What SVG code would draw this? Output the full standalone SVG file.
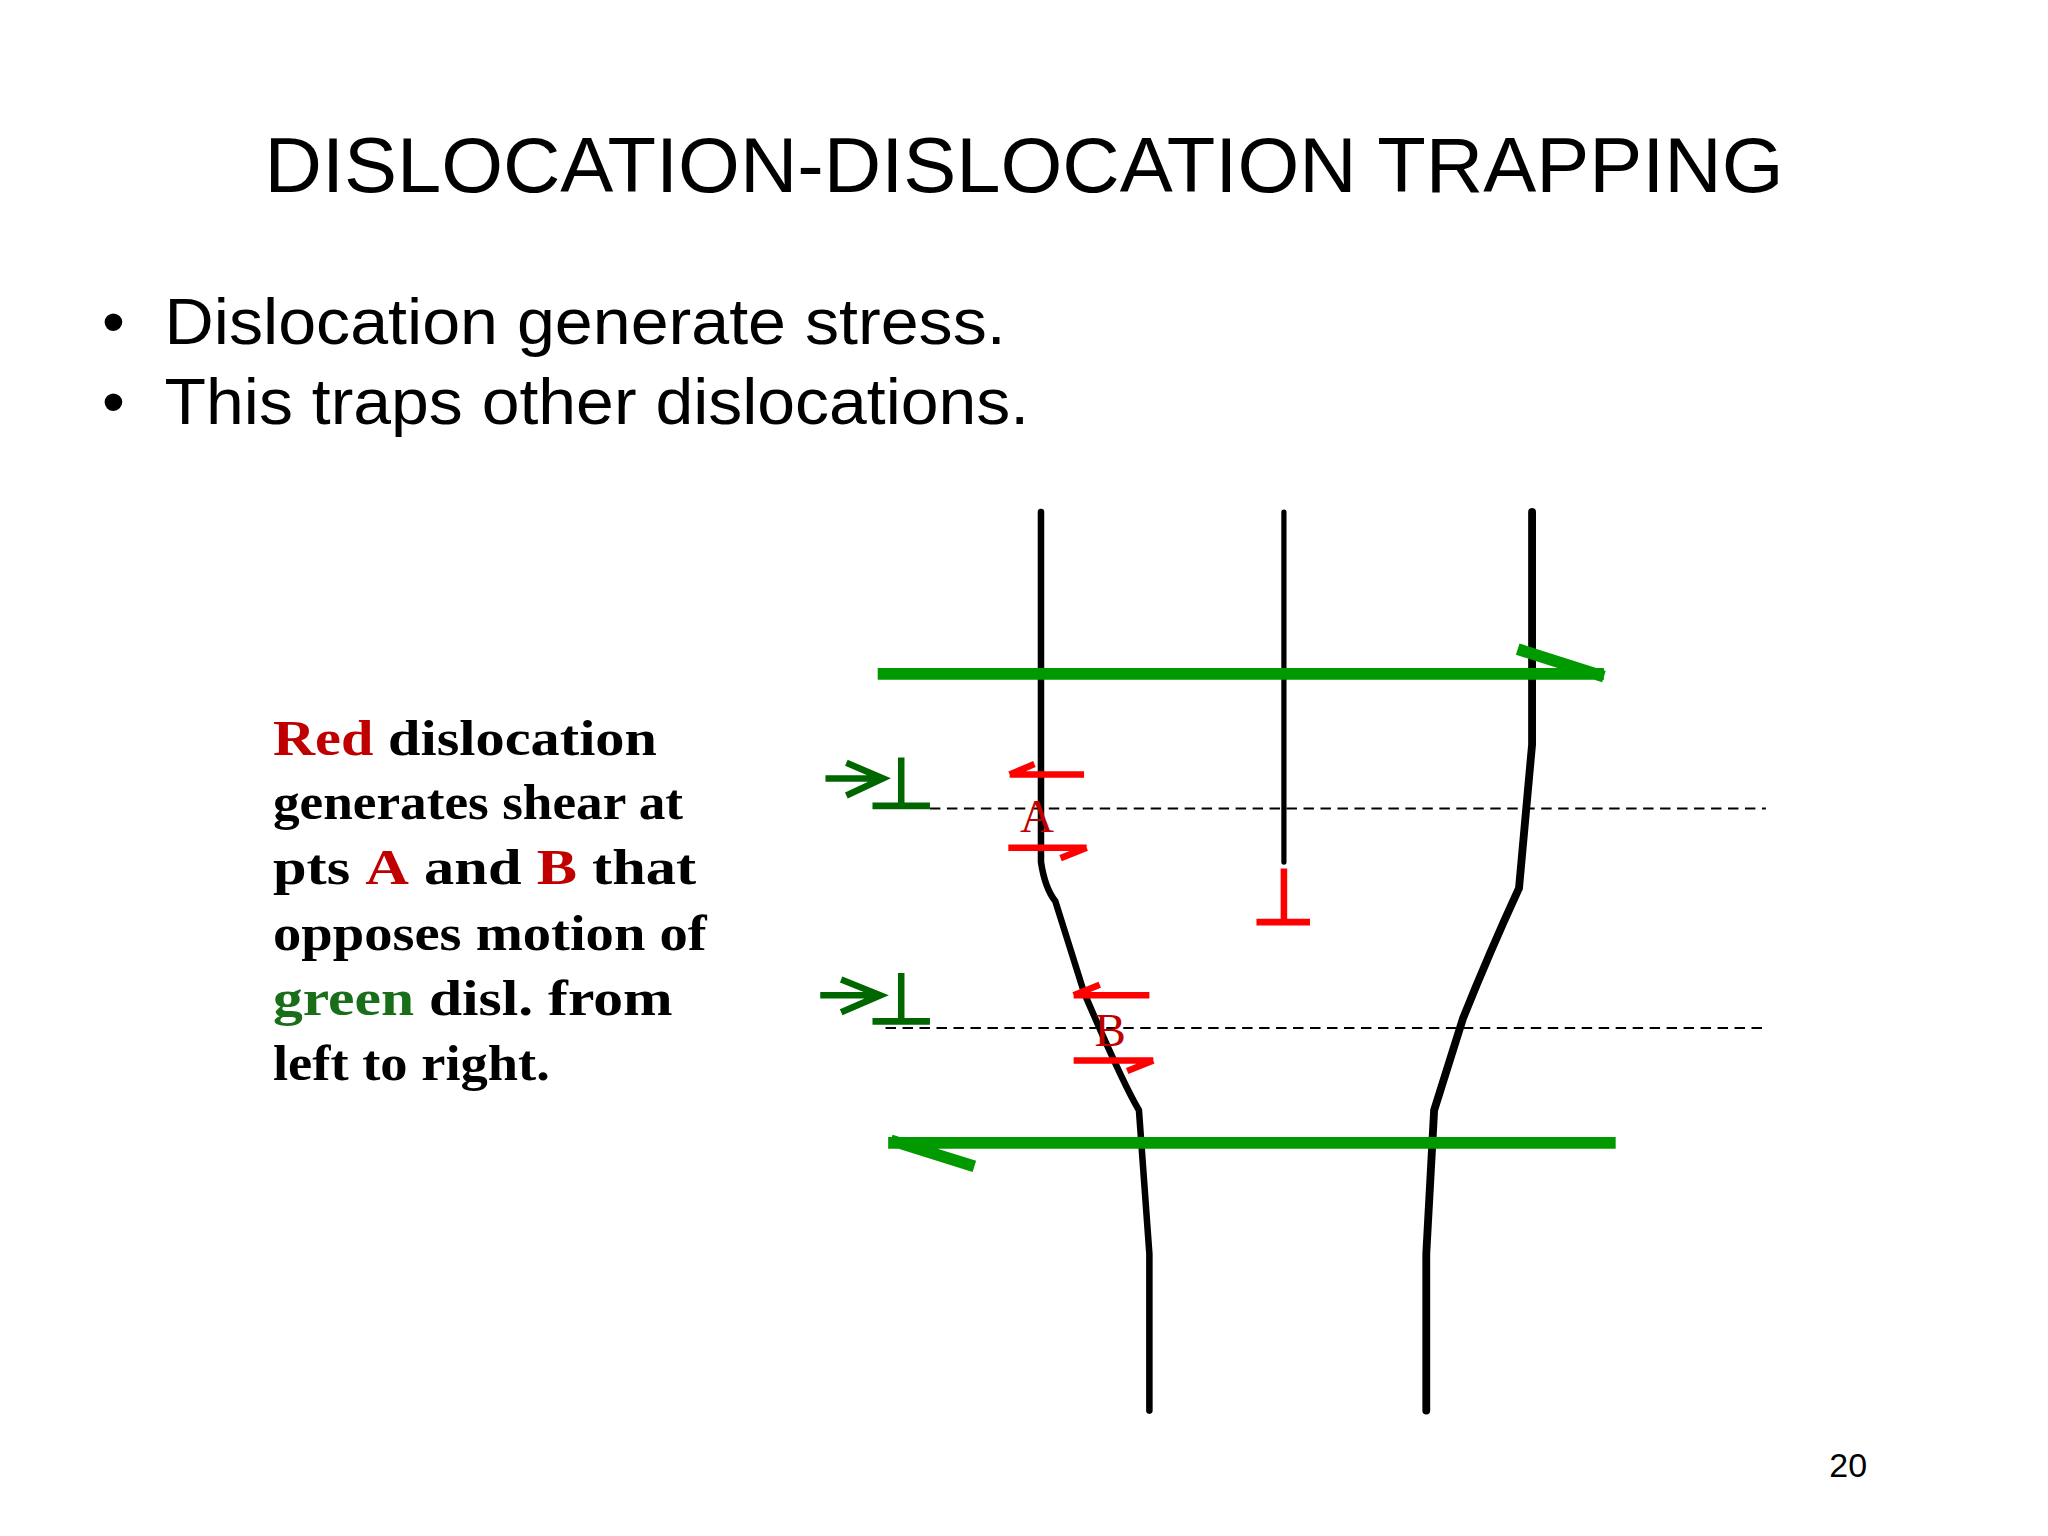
<svg xmlns="http://www.w3.org/2000/svg" width="2048" height="1536" viewBox="0 0 2048 1536">
<style>
.sans{font-family:"Liberation Sans",Arial,sans-serif;fill:#000}
.serif{font-family:"Liberation Serif","Times New Roman",serif;font-weight:bold;font-size:38px;fill:#000}
.red{fill:#c00000}.grn{fill:#1a6e1a}
.blk{stroke:#000;fill:none;stroke-linecap:round}
.g{stroke:#009900;fill:none;stroke-width:9}
.dg{stroke:#006600;fill:none;stroke-width:5}
.r{stroke:#ff0000;fill:none;stroke-width:5}
.dash{stroke:#000;stroke-width:1.5;stroke-dasharray:8 5}
</style>
<rect width="2048" height="1536" fill="#fff"/>
<g transform="scale(1.30612)">
<g id="title"><text class="sans" x="784" y="147" font-size="60" text-anchor="middle" textLength="1163" lengthAdjust="spacingAndGlyphs">DISLOCATION-DISLOCATION TRAPPING</text></g>
<g id="bullets" class="sans" font-size="50">
<text x="78" y="263">•</text><text x="126" y="263" textLength="644" lengthAdjust="spacingAndGlyphs">Dislocation generate stress.</text>
<text x="78" y="325">•</text><text x="126" y="325" textLength="662" lengthAdjust="spacingAndGlyphs">This traps other dislocations.</text>
</g>
<g id="caption" class="serif">
<text x="209" y="578" textLength="294" lengthAdjust="spacingAndGlyphs"><tspan class="red">Red</tspan>  dislocation</text>
<text x="209" y="627" textLength="314" lengthAdjust="spacingAndGlyphs">generates shear at</text>
<text x="209" y="677" textLength="324" lengthAdjust="spacingAndGlyphs">pts  <tspan class="red">A</tspan> and  <tspan class="red">B</tspan> that</text>
<text x="209" y="727" textLength="332" lengthAdjust="spacingAndGlyphs">opposes motion of</text>
<text x="209" y="777" textLength="306" lengthAdjust="spacingAndGlyphs"><tspan class="grn">green</tspan>   disl. from</text>
<text x="209" y="827" textLength="212" lengthAdjust="spacingAndGlyphs">left to right.</text>
</g>
<g id="connectors">
<path class="blk" stroke-width="5" d="M797 392 V660 Q800 680 808 690 L830 760 Q860 830 872 850 L880 960 V1080"/>
<path class="blk" stroke-width="4" d="M983 392 V660"/>
<path class="blk" stroke-width="6" d="M1173 392 V570 L1163 680 Q1140 730 1120 780 L1098 850 L1092 960 V1080"/>
<line class="dash" x1="712" y1="619" x2="1352" y2="619"/>
<line class="dash" x1="678" y1="787" x2="1352" y2="787"/>
<path class="g" d="M672 516 H1228 M1162 497 L1228 518"/>
<path class="g" d="M680 875 H1237 M682 873 L746 893"/>
</g>
<g id="green-disl-1"><path class="dg" d="M632 596 H676 M648 584 L676 596 L648 609 M690 580 V615 M668 617 H712"/></g>
<g id="green-disl-2"><path class="dg" d="M628 762 H674 M644 750 L674 762 L644 775 M690 745 V780 M668 782 H712"/></g>
<g id="red-disl"><path class="r" d="M983 665 V705 M962 706 H1003"/></g>
<g id="A">
<path class="r" d="M773 593 H830 M773 593 L792 585 M772 649 H832 M832 649 L812 657"/>
<text class="red" x="794" y="637" font-family="Liberation Serif,serif" font-size="36" text-anchor="middle">A</text>
</g>
<g id="B">
<path class="r" d="M822 762 H880 M822 762 L842 754 M822 812 H883 M883 812 L863 820"/>
<text class="red" x="850" y="801" font-family="Liberation Serif,serif" font-size="36" text-anchor="middle">B</text>
</g>
<g id="page"><text class="sans" x="1415" y="1131" font-size="26" text-anchor="middle">20</text></g>
</g>
</svg>
